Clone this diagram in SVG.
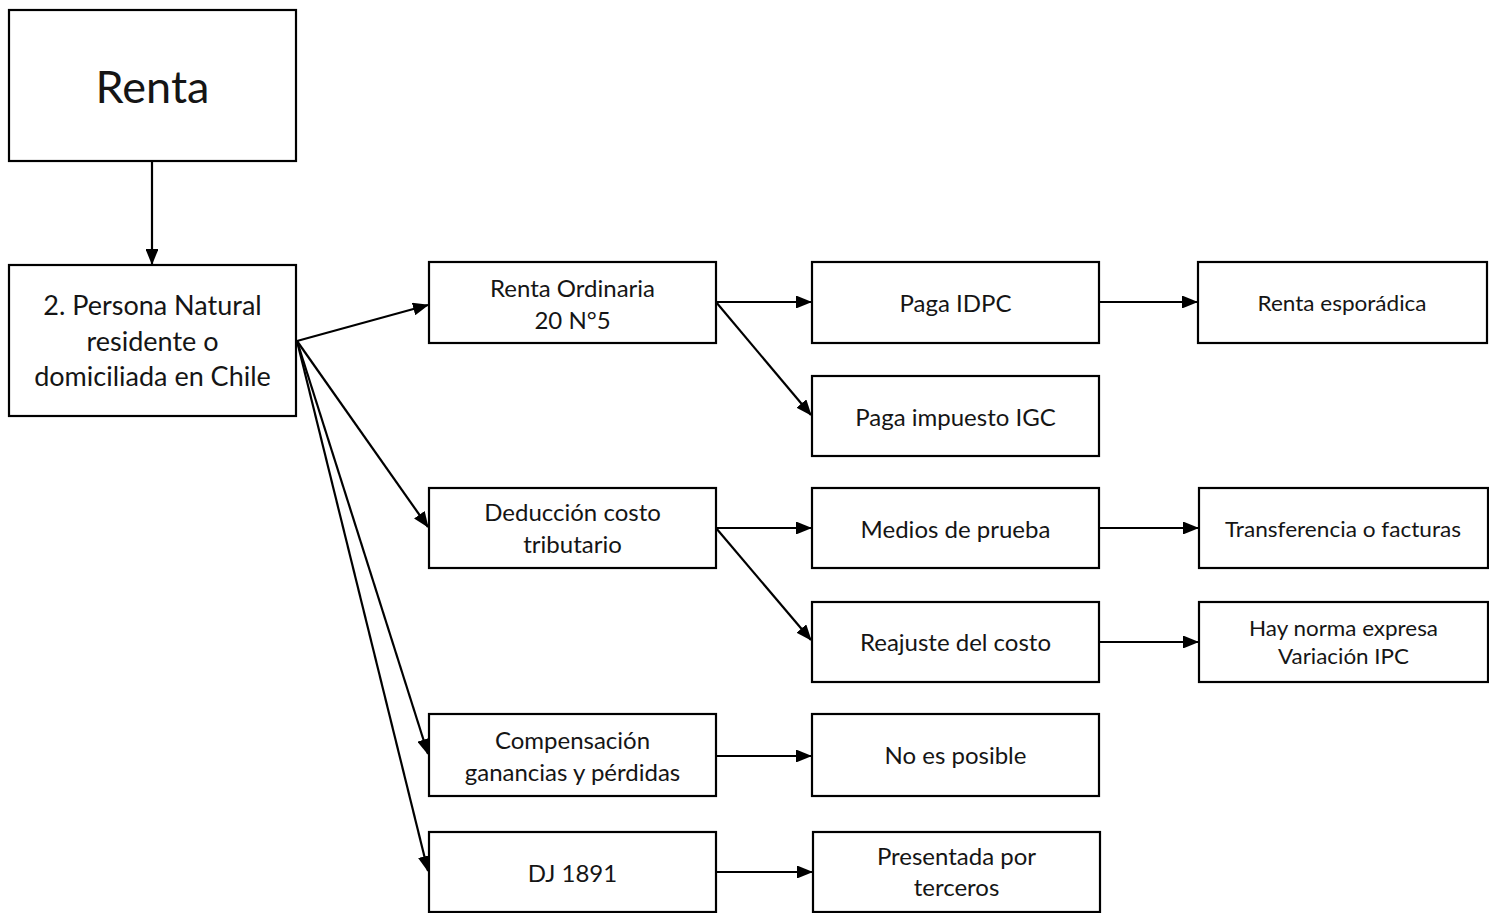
<svg xmlns="http://www.w3.org/2000/svg" width="1489" height="913" viewBox="0 0 1489 913">
<style>
.box{fill:#fff;stroke:#000;stroke-width:2.2}
text{font-family:Lato,"Liberation Sans",sans-serif;fill:#151515;text-anchor:middle}
.t{font-size:24px}
.n{font-size:22px}
.c{stroke:#000;stroke-width:2.2;fill:none;marker-end:url(#ah)}
</style>
<defs>
<marker id="ah" viewBox="0 0 16 13" refX="15" refY="6.5" markerWidth="7.3" markerHeight="5.9" markerUnits="strokeWidth" orient="auto">
<path d="M0,0 L16,6.5 L0,13 z" fill="#000"/>
</marker>
</defs>
<rect width="1489" height="913" fill="#fff"/>
<g id="connectors">
<line class="c" x1="152" y1="161" x2="152" y2="264"/>
<line class="c" x1="297" y1="341" x2="428" y2="305"/>
<line class="c" x1="297" y1="341" x2="428" y2="527"/>
<line class="c" x1="297" y1="341" x2="428" y2="754"/>
<line class="c" x1="297" y1="341" x2="428" y2="871"/>
<line class="c" x1="716" y1="302" x2="811" y2="302"/>
<line class="c" x1="716" y1="302" x2="811" y2="415"/>
<line class="c" x1="1099" y1="302" x2="1197" y2="302"/>
<line class="c" x1="716" y1="528" x2="811" y2="528"/>
<line class="c" x1="716" y1="528" x2="811" y2="640"/>
<line class="c" x1="1099" y1="528" x2="1198" y2="528"/>
<line class="c" x1="1099" y1="642" x2="1198" y2="642"/>
<line class="c" x1="716" y1="756" x2="811" y2="756"/>
<line class="c" x1="716" y1="872" x2="812" y2="872"/>
</g>
<g id="renta"><rect class="box" x="9" y="10" width="287" height="151"/><text x="152.5" y="103" font-size="45">Renta</text></g>
<g id="persona"><rect class="box" x="9" y="265" width="287" height="151"/>
<text x="152.5" y="315" font-size="27">2. Persona Natural</text>
<text x="152.5" y="351" font-size="27">residente o</text>
<text x="152.5" y="386" font-size="27">domiciliada en Chile</text></g>
<g id="ordinaria"><rect class="box" x="429" y="262" width="287" height="81"/>
<text class="t" x="572.5" y="297">Renta Ordinaria</text><text class="t" x="572.5" y="329">20 N°5</text></g>
<g id="idpc"><rect class="box" x="812" y="262" width="287" height="81"/><text class="t" x="955.5" y="312">Paga IDPC</text></g>
<g id="esporadica"><rect class="box" x="1198" y="262" width="289" height="81"/><text class="n" x="1342" y="311" textLength="169" lengthAdjust="spacingAndGlyphs">Renta esporádica</text></g>
<g id="igc"><rect class="box" x="812" y="376" width="287" height="80"/><text class="t" x="955.5" y="426">Paga impuesto IGC</text></g>
<g id="deduccion"><rect class="box" x="429" y="488" width="287" height="80"/>
<text class="t" x="572.5" y="521">Deducción costo</text><text class="t" x="572.5" y="553">tributario</text></g>
<g id="medios"><rect class="box" x="812" y="488" width="287" height="80"/><text class="t" x="955.5" y="538">Medios de prueba</text></g>
<g id="transferencia"><rect class="box" x="1199" y="488" width="289" height="80"/><text class="n" x="1343" y="537" textLength="236" lengthAdjust="spacingAndGlyphs">Transferencia o facturas</text></g>
<g id="reajuste"><rect class="box" x="812" y="602" width="287" height="80"/><text class="t" x="955.5" y="651">Reajuste del costo</text></g>
<g id="norma"><rect class="box" x="1199" y="602" width="289" height="80"/>
<text class="n" x="1343.5" y="636" textLength="189" lengthAdjust="spacingAndGlyphs">Hay norma expresa</text>
<text class="n" x="1343.5" y="664" textLength="131" lengthAdjust="spacingAndGlyphs">Variación IPC</text></g>
<g id="compensacion"><rect class="box" x="429" y="714" width="287" height="82"/>
<text class="t" x="572.5" y="749">Compensación</text><text class="t" x="572.5" y="781">ganancias y pérdidas</text></g>
<g id="noposible"><rect class="box" x="812" y="714" width="287" height="82"/><text class="t" x="955.5" y="764">No es posible</text></g>
<g id="dj"><rect class="box" x="429" y="832" width="287" height="80"/><text class="t" x="572.5" y="882">DJ 1891</text></g>
<g id="terceros"><rect class="box" x="813" y="832" width="287" height="80"/>
<text class="t" x="956.5" y="865">Presentada por</text><text class="t" x="956.5" y="896">terceros</text></g>
</svg>
